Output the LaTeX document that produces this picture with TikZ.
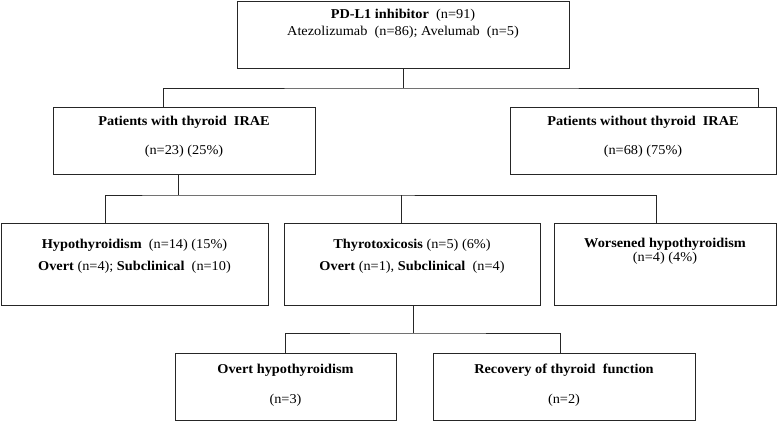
\documentclass[tikz,border=0pt]{standalone}
\usepackage{fontspec}
\setmainfont{Liberation Serif}[FakeStretch=1.06]

\tikzset{
  box/.style={draw=black!85, line width=0.8pt, rectangle, inner sep=0pt},
  txt/.style={align=center, inner sep=0pt, font=\fontsize{13.5}{17}\selectfont},
  link/.style={draw=black!85, line width=0.8pt},
}

\begin{document}
\begin{tikzpicture}[x=1pt,y=-1pt]
\useasboundingbox (0,0) rectangle (777,423);

\node[box, minimum width=332pt, minimum height=66.5pt] (top) at (403,34.75) {};
\node[txt] (topT) at (403,23.5)
  {\textbf{PD-L1 inhibitor}\ \ (n=91)\\Atezolizumab\ \ (n=86); Avelumab\ \ (n=5)};

\node[box, minimum width=262pt, minimum height=67pt] (withB) at (184,140.5) {};
\node[txt] (withT) at (184,136.5) {\textbf{Patients with thyroid\ \ IRAE}\\[12pt](n=23) (25\%)};

\node[box, minimum width=266pt, minimum height=67pt] (withoutB) at (643,140.5) {};
\node[txt] (withoutT) at (643,136.5) {\textbf{Patients without thyroid\ \ IRAE}\\[12pt](n=68) (75\%)};

\node[box, minimum width=267pt, minimum height=82pt] (hypoB) at (134.5,264) {};
\node[txt] (hypoT) at (134.5,256)
  {\textbf{Hypothyroidism}\ \ (n=14) (15\%)\\[5pt]\textbf{Overt} (n=4); \textbf{Subclinical}\ \ (n=10)};

\node[box, minimum width=256pt, minimum height=82pt] (toxB) at (412,264) {};
\node[txt] (toxT) at (412,256)
  {\textbf{Thyrotoxicosis} (n=5) (6\%)\\[5pt]\textbf{Overt} (n=1), \textbf{Subclinical}\ \ (n=4)};

\node[box, minimum width=222pt, minimum height=82pt] (worseB) at (665,264) {};
\node[txt] (worseT) at (665,251.5) {\textbf{Worsened hypothyroidism}\\[-3pt](n=4) (4\%)};

\node[box, minimum width=221pt, minimum height=67pt] (overtB) at (285.5,386.5) {};
\node[txt] (overtT) at (285.5,385) {\textbf{Overt hypothyroidism}\\[13pt](n=3)};

\node[box, minimum width=262pt, minimum height=67pt] (recovB) at (564,386.5) {};
\node[txt] (recovT) at (564,385) {\textbf{Recovery of thyroid\ \ function}\\[13pt](n=2)};

\coordinate (bus1) at (403,88);
\coordinate (bus2) at (178,195);
\coordinate (bus3) at (413,333);

\draw[link] (top.south) -- (bus1);
\draw[link] ([xshift=-21pt]withB.north) |- (bus1) -| ([xshift=115pt]withoutB.north);

\draw[link] ([xshift=-6pt]withB.south) -- (bus2);
\draw[link] ([xshift=-29.5pt]hypoB.north) |- (bus2) -| ([xshift=-9pt]worseB.north);
\draw[link] ([xshift=-11pt]toxB.north) -- ([xshift=-11pt]toxB.north |- bus2);

\draw[link] ([xshift=1pt]toxB.south) -- (bus3);
\draw[link] (overtB.north) |- (bus3) -| ([xshift=-4pt]recovB.north);

\end{tikzpicture}
\end{document}
